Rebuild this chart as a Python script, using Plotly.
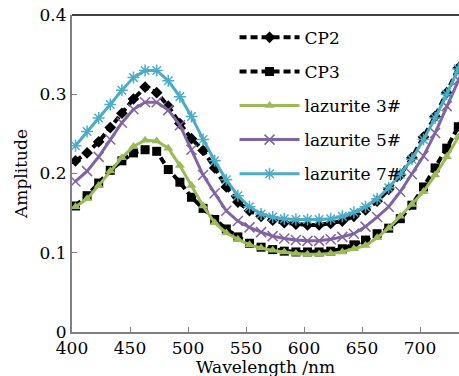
import plotly.graph_objects as go

wavelength = [403, 413, 423, 433, 443, 453, 463, 473, 483, 493, 503, 513, 523, 533, 543,
              553, 563, 573, 583, 593, 603, 613, 623, 633, 643, 653, 663, 673, 683, 693,
              703, 713, 723, 733, 743]

cp2 = [0.216, 0.226, 0.240, 0.258, 0.276, 0.294, 0.309, 0.302, 0.285, 0.263, 0.244, 0.229,
       0.207, 0.183, 0.164, 0.153, 0.146, 0.141, 0.138, 0.136, 0.135, 0.135, 0.137, 0.140,
       0.146, 0.154, 0.165, 0.180, 0.198, 0.220, 0.246, 0.272, 0.302, 0.333, 0.365]

cp3 = [0.159, 0.172, 0.188, 0.204, 0.216, 0.226, 0.230, 0.228, 0.205, 0.189, 0.170, 0.156,
       0.142, 0.130, 0.120, 0.112, 0.107, 0.104, 0.102, 0.101, 0.101, 0.101, 0.102, 0.105,
       0.110, 0.116, 0.124, 0.131, 0.143, 0.160, 0.183, 0.207, 0.232, 0.259, 0.287]

laz3 = [0.158, 0.168, 0.185, 0.203, 0.220, 0.234, 0.242, 0.241, 0.232, 0.210, 0.185, 0.159,
        0.138, 0.125, 0.117, 0.110, 0.106, 0.103, 0.101, 0.099, 0.098, 0.098, 0.099, 0.101,
        0.105, 0.109, 0.119, 0.131, 0.146, 0.161, 0.177, 0.198, 0.221, 0.246, 0.272]

laz5 = [0.190, 0.203, 0.221, 0.243, 0.264, 0.281, 0.290, 0.290, 0.280, 0.261, 0.230, 0.198,
        0.175, 0.153, 0.140, 0.132, 0.126, 0.121, 0.118, 0.116, 0.115, 0.115, 0.117, 0.120,
        0.124, 0.133, 0.145, 0.158, 0.177, 0.199, 0.222, 0.251, 0.285, 0.318, 0.350]

laz7 = [0.235, 0.253, 0.270, 0.287, 0.305, 0.321, 0.330, 0.330, 0.317, 0.297, 0.272, 0.243,
        0.216, 0.192, 0.172, 0.158, 0.149, 0.145, 0.143, 0.142, 0.142, 0.142, 0.143, 0.146,
        0.151, 0.158, 0.168, 0.182, 0.199, 0.218, 0.243, 0.270, 0.300, 0.332, 0.365]

names = ["CP2", "CP3", "lazurite 3#", "lazurite 5#", "lazurite 7#"]
x_ticks = [400, 450, 500, 550, 600, 650, 700]
y_ticks = [0, 0.1, 0.2, 0.3, 0.4]
y_tick_text = ["0", "0.1", "0.2", "0.3", "0.4"]
x_title = "Wavelength /nm"
y_title = "Amplitude"

FONT = "DejaVu Serif"
fig = go.Figure()

styles = [
    dict(color="black", dash="7px,4px", width=4, symbol="diamond", msize=9, mline=0),
    dict(color="black", dash="7px,4px", width=4, symbol="square", msize=9, mline=0),
    dict(color="#9BBB59", dash="solid", width=3, symbol="triangle-up", msize=9, mline=0),
    dict(color="#8064A2", dash="solid", width=3, symbol="x-thin-open", msize=10, mline=1.5),
    dict(color="#4BACC6", dash="solid", width=3, symbol="asterisk-open", msize=10, mline=1.5),
]
series = [cp2, cp3, laz3, laz5, laz7]

for i, (nm, ys, st) in enumerate(zip(names, series, styles)):
    fig.add_trace(go.Scatter(
        x=wavelength, y=ys, name=nm, mode="lines+markers", legendgroup=nm,
        line=dict(color=st["color"], width=st["width"], dash=st["dash"]),
        marker=dict(symbol=st["symbol"], size=st["msize"], color=st["color"],
                    line=dict(color=st["color"], width=st["mline"])),
    ))

fig.update_layout(
    width=459, height=376,
    margin=dict(l=72, r=0, t=15, b=44),
    paper_bgcolor="white", plot_bgcolor="white",
    font=dict(family=FONT, size=17, color="black"),
    showlegend=True,
    legend=dict(x=0.42, y=0.985, xanchor="left", yanchor="top",
                bgcolor="rgba(0,0,0,0)", font=dict(family=FONT, size=17),
                itemwidth=60, tracegroupgap=9, traceorder="grouped"),
    xaxis=dict(range=[400, 733.6], tickvals=x_ticks, ticks="inside", ticklen=5,
               tickcolor="#808080", showline=True, linecolor="#808080", linewidth=2,
               showgrid=False, zeroline=False, automargin=False),
    yaxis=dict(range=[0, 0.4], tickvals=y_ticks, ticktext=y_tick_text, ticks="inside",
               ticklen=5, tickcolor="#808080", showline=True, linecolor="#808080", linewidth=2,
               showgrid=False, zeroline=False,
               title=dict(text=y_title, font=dict(family=FONT, size=17), standoff=8),
               automargin=False),
    shapes=[dict(type="line", xref="paper", yref="paper", x0=0, x1=1, y0=1, y1=1,
                 line=dict(color="black", width=1.5))],
    annotations=[dict(text=x_title, xref="paper", yref="paper", x=0.5, y=-0.072,
                      xanchor="center", yanchor="top", showarrow=False,
                      font=dict(family=FONT, size=17, color="black"))],
)

fig.write_html("out.html")
